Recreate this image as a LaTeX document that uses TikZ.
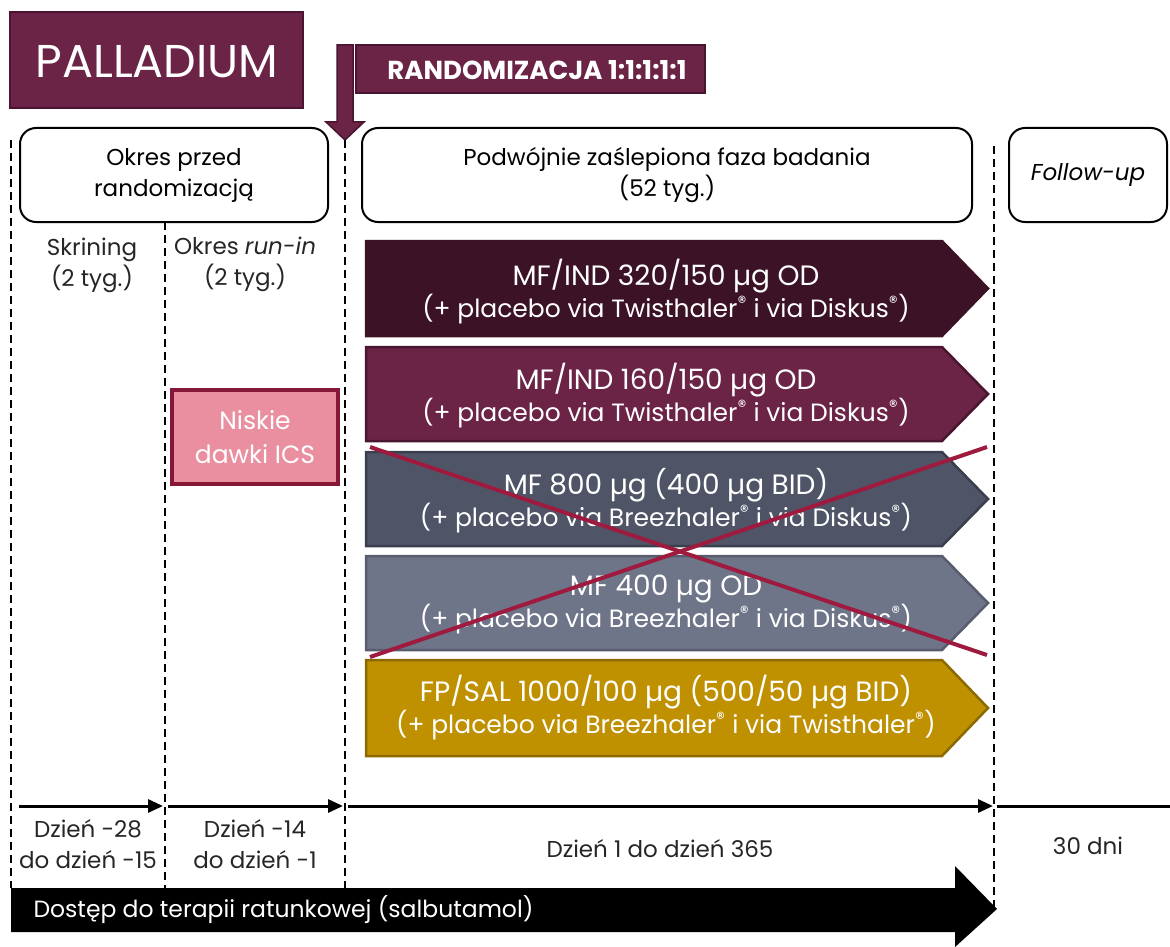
\documentclass[tikz,border=0pt]{standalone}
\usepackage{fontspec}
\setmainfont{Poppins}
\usetikzlibrary{
		calc,
		arrows.meta,
		positioning
	}
\definecolor{maroon}{HTML}{6B2346}
\definecolor{maroondark}{HTML}{4A1530}
\definecolor{plum}{HTML}{3C1326}
\definecolor{slate}{HTML}{4F5567}
\definecolor{slatedark}{HTML}{3A3F4D}
\definecolor{greyblue}{HTML}{6F7589}
\definecolor{greybluedark}{HTML}{575C6E}
\definecolor{gold}{HTML}{BF9000}
\definecolor{golddark}{HTML}{8C6A00}
\definecolor{rose}{HTML}{EA8FA0}
\definecolor{crimson}{HTML}{9E1B3F}
\tikzset{
		>=stealth,
		phasebox/.style={draw=black, line width=2pt, rounded corners=16pt, align=center, inner sep=0pt},
		divider/.style={line width=2.5pt, dash pattern=on 8pt off 5pt},
		timeline/.style={line width=3pt, -{Triangle[length=15pt,width=13pt]}},
		lbl/.style={align=center, font=\fontsize{23}{31}\selectfont, text=black!85},
		armtext/.style={align=center, text=white, font=\fontsize{28}{32}\selectfont}
	}
\newcommand{\armshape}[4]{% top, bottom, fill, border
  \filldraw[fill=#3, draw=#4, line width=2.5pt, line join=miter]
    (366,#1) -- (942,#1) -- (988,{(#1+#2)/2}) -- (942,#2) -- (366,#2) -- cycle;}
\newcommand{\armsub}[1]{{\fontsize{25}{32}\selectfont #1}}

\begin{document}
\begin{tikzpicture}[x=1pt,y=-1pt]
          \useasboundingbox (0,0) rectangle (1170,947);

          % title and randomisation
          \filldraw[fill=maroon, draw=maroondark, line width=2pt] (10,12) rectangle (303,108);
          \node[text=white, font=\fontsize{46}{50}\selectfont] (title) at (157,62) {PALLADIUM};
          \filldraw[fill=maroon, draw=maroondark, line width=2pt] (356,45) rectangle (705,93);
          \node[text=white, font=\bfseries\fontsize{26}{28}\selectfont] (rand) at (537,70) {RANDOMIZACJA 1:1:1:1:1};
          \filldraw[fill=maroon, draw=maroondark, line width=1.5pt]
            (337,45) -- (353,45) -- (353,122) -- (364,122) -- (345,140) -- (326,122) -- (337,122) -- cycle;

          % phase headers
          \node[phasebox, minimum width=308pt, minimum height=94pt, font=\fontsize{23}{31}\selectfont] (pre) at (174,175) {Okres przed\\randomizacją};
          \node[phasebox, minimum width=610pt, minimum height=94pt, font=\fontsize{23}{31}\selectfont] (dbl) at (667,175) {Podwójnie zaślepiona faza badania\\(52 tyg.)};
          \node[phasebox, minimum width=158pt, minimum height=94pt, font=\itshape\fontsize{23}{31}\selectfont] (fup) at (1088,175) {Follow-up};

          % dividers
          \draw[divider] (11,140) -- (11,888);
          \draw[divider] (165,222) -- (165,888);
          \draw[divider] (345,140) -- (345,888);
          \draw[divider] (994,146) -- (994,909);

          \node[lbl] (scr) at (92,265) {Skrining\\(2 tyg.)};
          \node[lbl] (runin) at (245,264) {Okres \textit{run-in}\\(2 tyg.)};

          \filldraw[fill=rose, draw=crimson!85!black, line width=4pt] (172,390) rectangle (338,484);
          \node[align=center, text=white, font=\fontsize{25}{34}\selectfont] (ics) at (255,437) {Niskie\\dawki ICS};

          % treatment arms
          \armshape{241}{336}{plum}{plum}
          \node[armtext] (arm1) at (666,292) {MF/IND 320/150 µg OD\\\armsub{(+ placebo via Twisthaler\textsuperscript{®} i via Diskus\textsuperscript{®})}};
          \armshape{347}{441}{maroon}{maroondark}
          \node[armtext] (arm2) at (666,396) {MF/IND 160/150 µg OD\\\armsub{(+ placebo via Twisthaler\textsuperscript{®} i via Diskus\textsuperscript{®})}};
          \armshape{452}{546}{slate}{slatedark}
          \node[armtext] (arm3) at (666,501) {MF 800 µg (400 µg BID)\\\armsub{(+ placebo via Breezhaler\textsuperscript{®} i via Diskus\textsuperscript{®})}};
          \armshape{556}{650}{greyblue}{greybluedark}
          \node[armtext] (arm4) at (666,604) {MF 400 µg OD\\\armsub{(+ placebo via Breezhaler\textsuperscript{®} i via Diskus\textsuperscript{®})}};
          \armshape{660}{756}{gold}{golddark}
          \node[armtext] (arm5) at (666,708) {FP/SAL 1000/100 µg (500/50 µg BID)\\\armsub{(+ placebo via Breezhaler\textsuperscript{®} i via Twisthaler\textsuperscript{®})}};

          % crossed out arms
          \draw[crimson, line width=4pt] (370,447) -- (987,655);
          \draw[crimson, line width=4pt] (370,657) -- (987,447);

          % timeline
          \coordinate (t0) at (19,806);
          \coordinate (t1) at (163,806);
          \coordinate (t2) at (343,806);
          \coordinate (t3) at (993,806);
          \coordinate (t4) at (1170,806);
          \draw[timeline] (t0) -- (t1);
          \draw[timeline] ($(t1)+(5,0)$) -- (t2);
          \draw[timeline] ($(t2)+(5,0)$) -- (t3);
          \draw[line width=3pt] ($(t3)+(4,0)$) -- (t4);

          \node[lbl] (d1) at (88,844) {Dzień -28\\do dzień -15};
          \node[lbl] (d2) at (255,844) {Dzień -14\\do dzień -1};
          \node[lbl] (d3) at (660,849) {Dzień 1 do dzień 365};
          \node[lbl] (d4) at (1088,846) {30 dni};

          % rescue medication
          \fill[black] (11,888) -- (955,888) -- (955,866) -- (997,909) -- (955,947) -- (955,932) -- (11,932) -- cycle;
          \node[anchor=west, text=white, font=\fontsize{23.5}{26}\selectfont] (rescue) at (30,910) {Dostęp do terapii ratunkowej (salbutamol)};

          \end{tikzpicture}
\end{document}
